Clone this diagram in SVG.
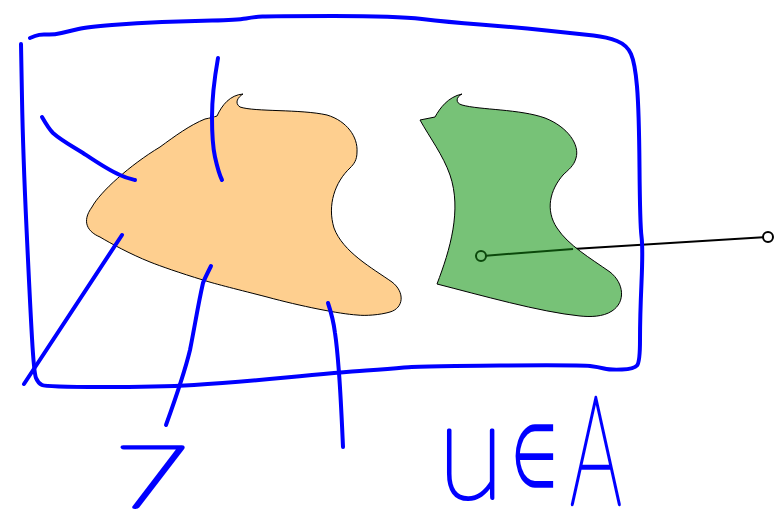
<svg xmlns="http://www.w3.org/2000/svg" width="777" height="509" viewBox="0 0 777 509">
  <style>
    .ink { fill: none; stroke: #0000ff; stroke-width: 4; stroke-linecap: round; stroke-linejoin: round; }
    .region { stroke: #000000; stroke-width: 1; }
    .hand { font-family: Lato, "DejaVu Sans", sans-serif; font-weight: 100; fill: #0000ff; stroke: #0000ff; stroke-width: 3.5; stroke-linejoin: round; }
    .sym { font-family: "DejaVu Sans", sans-serif; fill: #0000ff; }
  </style>
  <rect width="777" height="509" fill="#ffffff"/>

  <g id="connectors">
    <line x1="573" y1="249" x2="763" y2="237.3" stroke="#000000" stroke-width="2"/>
  </g>

  <g id="orange-region">
    <path class="region" fill="#fecf8f" d="M 100,237 C 88,232 81,222 92,207 C 100,192 130,165 160,147 C 175,136 190,125 205,119 C 210,118 214,117 217,116 C 222,105 230,95 243,94 C 238,97 234,103 240,107 C 255,112 300,109 327,115 C 347,121 358,137 357,152 C 357,160 354,164 350,168 C 335,182 327,205 334,228 C 343,252 372,268 392,282 C 405,292 404,308 390,312 C 380,315 365,316 357,315 C 340,314 300,306 267,297 C 240,290 215,284 203,280 C 180,273 160,266 150,262 C 130,254 110,243 100,237 Z"/>
  </g>

  <g id="green-region">
    <path class="region" fill="#77c277" d="M 420,120 L 435,117 C 440,108 448,97 462,94 C 456,97 455,103 462,105 C 480,110 520,109 545,118 C 568,127 580,145 576,158 C 574,166 568,170 563,175 C 550,190 545,210 557,228 C 568,245 590,258 610,272 C 624,283 626,302 612,311 C 603,317 590,317 580,316 C 540,312 480,295 437,284 C 450,250 462,210 450,175 C 443,155 430,138 420,120 Z"/>
    <line x1="486" y1="255.7" x2="573" y2="249" stroke="#0b480b" stroke-width="2"/>
    <circle cx="481" cy="256" r="5" fill="none" stroke="#0b480b" stroke-width="2"/>
  </g>

  <g id="pin-end">
    <circle cx="768" cy="237" r="5" fill="#ffffff" stroke="#000000" stroke-width="2"/>
  </g>

  <g id="frame">
    <path class="ink" d="M 30,38 L 35,36 Q 40,34 46.5,34.5 Q 53,35 61.5,33 Q 70,31 78.5,29 Q 87,27 112,25 Q 137,23 162,22 Q 187,21 212,20.5 Q 237,20 246,18.5 Q 255,17 262.5,16.5 Q 270,16 333.5,16 Q 397,16 422,19 Q 447,22 480,24.5 Q 513,27 546.5,30.5 Q 580,34 593.5,35.5 Q 607,37 617,41 Q 627,45 631,54 Q 635,63 637,86.5 Q 639,110 639.5,167.5 Q 640,225 641.5,236.5 Q 643,248 641.5,282.5 Q 640,317 640,339.5 Q 640,362 637,365.5 Q 634,369 622,369.5 Q 610,370 604,368.5 Q 598,367 590,366 Q 582,365 500,365.5 Q 418,366 404,367.5 Q 390,369 366,370.5 Q 342,372 286,377.5 Q 230,383 194,385 Q 158,387 102,387 Q 46,387 42,385 Q 38,383 36,378 Q 34,373 32,338 Q 30,303 26.5,228 Q 23,153 22,98.5 L 21,44"/>
  </g>

  <g id="annotations">
    <path class="ink" d="M 42,117 C 46,124 49,129 53,133 C 62,141 72,146 83,153 C 95,161 108,170 120,175 C 126,178 131,179 135,180"/>
    <path class="ink" d="M 122,235 L 24,384"/>
    <path class="ink" d="M 218,58 C 215,75 212,95 212,117 C 212,135 213,148 215,157 C 217,166 219,174 222,180"/>
    <path class="ink" d="M 211,266 C 207,274 204,280 203,283 C 198,305 195,325 190,350 C 184,375 175,400 166,425"/>
    <path class="ink" d="M 328,303 C 332,315 334,325 335,333 C 337,346 338,360 339,373 C 341,400 342,425 343,447"/>
  </g>

  <g id="labels">
    <text class="hand" transform="matrix(1.5,0,0,1,114,507)" font-size="86">7</text>
    <text class="hand" transform="matrix(0.88,0,0,1,438,498)" font-size="138">u</text>
    <text class="sym" transform="matrix(0.61,0,0,1,511,487)" font-size="88">∈</text>
    <text class="hand" transform="matrix(0.53,0,0,1,570,504)" font-size="153">A</text>
  </g>
</svg>
